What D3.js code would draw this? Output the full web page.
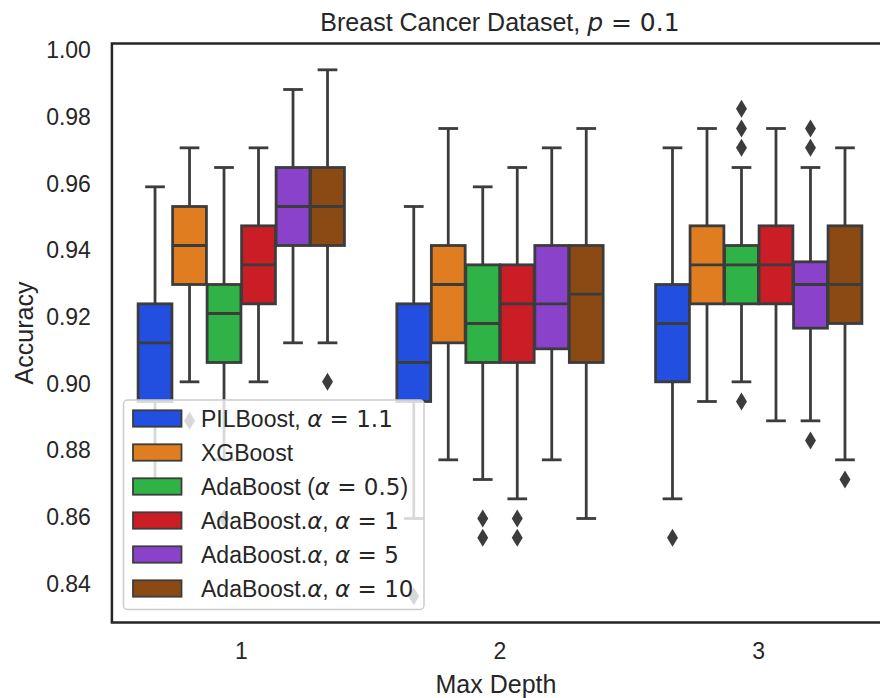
<!DOCTYPE html>
<html>
<head>
<meta charset="utf-8">
<script src="https://cdn.jsdelivr.net/npm/d3@7"></script>
<style>
  body { margin: 0; background: #fff; }
  svg { display: block; }
</style>
</head>
<body>
<div id="chart"></div>
<script>
// categories and series
var depths = ["1", "2", "3"];
var models = ["PILBoost, $α = 1.1$", "XGBoost", "AdaBoost ($α = 0.5$)",
              "AdaBoost.$α$, $α = 1$", "AdaBoost.$α$, $α = 5$", "AdaBoost.$α$, $α = 10$"];
var colors = ["#023eff", "#ff7c00", "#1ac938", "#e8000b", "#8b2be2", "#9f4800"];
var yTicks = [0.84, 0.86, 0.88, 0.90, 0.92, 0.94, 0.96, 0.98, 1.00];

// box stats, one row per model, one value per depth
var whiskLo = [[0.8713, 0.8596, 0.8655],
               [0.9006, 0.8772, 0.8947],
               [0.8772, 0.8713, 0.9006],
               [0.9006, 0.8655, 0.8889],
               [0.9123, 0.8772, 0.8889],
               [0.9123, 0.8596, 0.8772]];
var q1 =      [[0.8947, 0.8947, 0.9006],
               [0.9298, 0.9123, 0.9240],
               [0.9064, 0.9064, 0.9240],
               [0.9240, 0.9064, 0.9240],
               [0.9415, 0.9105, 0.9167],
               [0.9415, 0.9064, 0.9181]];
var med =     [[0.9123, 0.9064, 0.9181],
               [0.9415, 0.9298, 0.9357],
               [0.9211, 0.9181, 0.9357],
               [0.9357, 0.9240, 0.9357],
               [0.9532, 0.9240, 0.9298],
               [0.9532, 0.9269, 0.9298]];
var q3 =      [[0.9240, 0.9240, 0.9298],
               [0.9532, 0.9415, 0.9474],
               [0.9298, 0.9357, 0.9415],
               [0.9474, 0.9357, 0.9474],
               [0.9649, 0.9415, 0.9366],
               [0.9649, 0.9415, 0.9474]];
var whiskHi = [[0.9591, 0.9532, 0.9708],
               [0.9708, 0.9766, 0.9766],
               [0.9649, 0.9591, 0.9649],
               [0.9708, 0.9649, 0.9766],
               [0.9883, 0.9708, 0.9649],
               [0.9942, 0.9766, 0.9708]];
var fliers =  [[[], [0.8363], [0.8538]],
               [[0.8889], [], []],
               [[0.8596], [0.8596, 0.8538], [0.9708, 0.9766, 0.9825, 0.8947]],
               [[], [0.8596, 0.8538], []],
               [[], [], [0.9708, 0.9766, 0.8830]],
               [[0.9006], [], [0.8713]]];

var width = 880, height = 698;
var pLeft = 111.9, pTop = 43.5, pBottom = 622.5, pRight = 888.1;
var lineCol = "#3c3c3c", textCol = "#262626";
var sans = "'Liberation Sans', Arial, sans-serif";
var mathFont = "'DejaVu Sans', sans-serif";

var svg = d3.select("#chart").append("svg")
    .attr("width", width).attr("height", height);

var x = d3.scaleBand().domain(depths).range([pLeft, pRight]);
var hue = d3.scaleBand().domain(d3.range(models.length)).range([-0.4 * x.bandwidth(), 0.4 * x.bandwidth()]);
var y = d3.scaleLinear().domain([0.8284, 1.0021]).range([pBottom, pTop]);

function soft(c) {
  var h = d3.hsl(c);
  h.s = h.s * 0.75;
  return h.formatHex();
}

// text with $..$ math parts
function mathText(sel, str) {
  str.split("$").forEach(function(part, i) {
    if (!part) return;
    if (i % 2 == 0) {
      sel.append("tspan").attr("font-family", sans).text(part);
    } else {
      part.split(/([α-ωa-z])/).forEach(function(p) {
        if (!p) return;
        var t = sel.append("tspan").attr("font-family", mathFont).text(p);
        if (/^[α-ωa-z]$/.test(p)) t.attr("font-style", "italic");
      });
    }
  });
}

// boxes
var items = [];
models.forEach(function(m, i) {
  depths.forEach(function(d, j) {
    items.push({m: i, d: j, cx: x(d) + x.bandwidth() / 2 + hue(i) + hue.bandwidth() / 2});
  });
});
var bw = hue.bandwidth() * 0.98;
var lw = 2.8;

var g = svg.append("g");
items.forEach(function(it) {
  var i = it.m, j = it.d;
  g.append("rect")
    .attr("x", it.cx - bw / 2).attr("width", bw)
    .attr("y", y(q3[i][j])).attr("height", y(q1[i][j]) - y(q3[i][j]))
    .attr("fill", soft(colors[i])).attr("stroke", lineCol).attr("stroke-width", lw);
});
items.forEach(function(it) {
  var i = it.m, j = it.d;
  g.append("line").attr("x1", it.cx).attr("x2", it.cx)
    .attr("y1", y(q1[i][j])).attr("y2", y(whiskLo[i][j]))
    .attr("stroke", lineCol).attr("stroke-width", lw);
  g.append("line").attr("x1", it.cx).attr("x2", it.cx)
    .attr("y1", y(q3[i][j])).attr("y2", y(whiskHi[i][j]))
    .attr("stroke", lineCol).attr("stroke-width", lw);
  [whiskLo[i][j], whiskHi[i][j]].forEach(function(v) {
    g.append("line").attr("x1", it.cx - bw / 4).attr("x2", it.cx + bw / 4)
      .attr("y1", y(v)).attr("y2", y(v))
      .attr("stroke", lineCol).attr("stroke-width", lw).attr("stroke-linecap", "square");
  });
  g.append("line").attr("x1", it.cx - bw / 2).attr("x2", it.cx + bw / 2)
    .attr("y1", y(med[i][j])).attr("y2", y(med[i][j]))
    .attr("stroke", lineCol).attr("stroke-width", lw);
  fliers[i][j].forEach(function(v) {
    g.append("path")
      .attr("d", d3.symbol(d3.symbolDiamond, 94)())
      .attr("transform", "translate(" + it.cx + "," + y(v) + ") scale(1.05,1)")
      .attr("fill", lineCol);
  });
});

// frame
svg.append("rect")
  .attr("x", pLeft).attr("y", pTop)
  .attr("width", pRight - pLeft).attr("height", pBottom - pTop)
  .attr("fill", "none").attr("stroke", textCol).attr("stroke-width", 2.5);

// axes (no tick marks in this style)
var yAxis = svg.append("g").attr("transform", "translate(" + pLeft + ",0)")
  .call(d3.axisLeft(y).tickValues(yTicks).tickFormat(d3.format(".2f")).tickSize(0).tickPadding(21));
var xAxis = svg.append("g").attr("transform", "translate(0," + pBottom + ")")
  .call(d3.axisBottom(x).tickSize(0).tickPadding(20));
[xAxis, yAxis].forEach(function(a) {
  a.select(".domain").remove();
  a.selectAll("text").attr("font-family", sans).attr("font-size", 23).attr("fill", textCol);
});

svg.append("text")
  .attr("x", (pLeft + pRight) / 2 - 4).attr("y", 693)
  .attr("text-anchor", "middle").attr("font-family", sans).attr("font-size", 25).attr("fill", textCol)
  .text("Max Depth");
svg.append("text")
  .attr("transform", "translate(33," + (pTop + pBottom) / 2 + ") rotate(-90)")
  .attr("text-anchor", "middle").attr("font-family", sans).attr("font-size", 25).attr("fill", textCol)
  .text("Accuracy");
var title = svg.append("text")
  .attr("x", 500).attr("y", 31)
  .attr("text-anchor", "middle").attr("font-size", 25).attr("fill", textCol);
mathText(title, "Breast Cancer Dataset, $p = 0.1$");

// legend
var leg = svg.append("g").attr("transform", "translate(123.5,400)");
leg.append("rect")
  .attr("width", 300.5).attr("height", 209.5).attr("rx", 4)
  .attr("fill", "rgba(255,255,255,0.8)").attr("stroke", "#cccccc").attr("stroke-width", 1.5);
models.forEach(function(m, i) {
  var row = leg.append("g").attr("transform", "translate(0," + (18.5 + i * 34) + ")");
  row.append("rect")
    .attr("x", 9.5).attr("y", -8.2).attr("width", 48.5).attr("height", 16.4)
    .attr("fill", soft(colors[i])).attr("stroke", lineCol).attr("stroke-width", 1.8);
  var t = row.append("text").attr("x", 77.5).attr("y", 8.2)
    .attr("font-size", 23).attr("fill", textCol);
  mathText(t, m);
});
</script>
</body>
</html>
